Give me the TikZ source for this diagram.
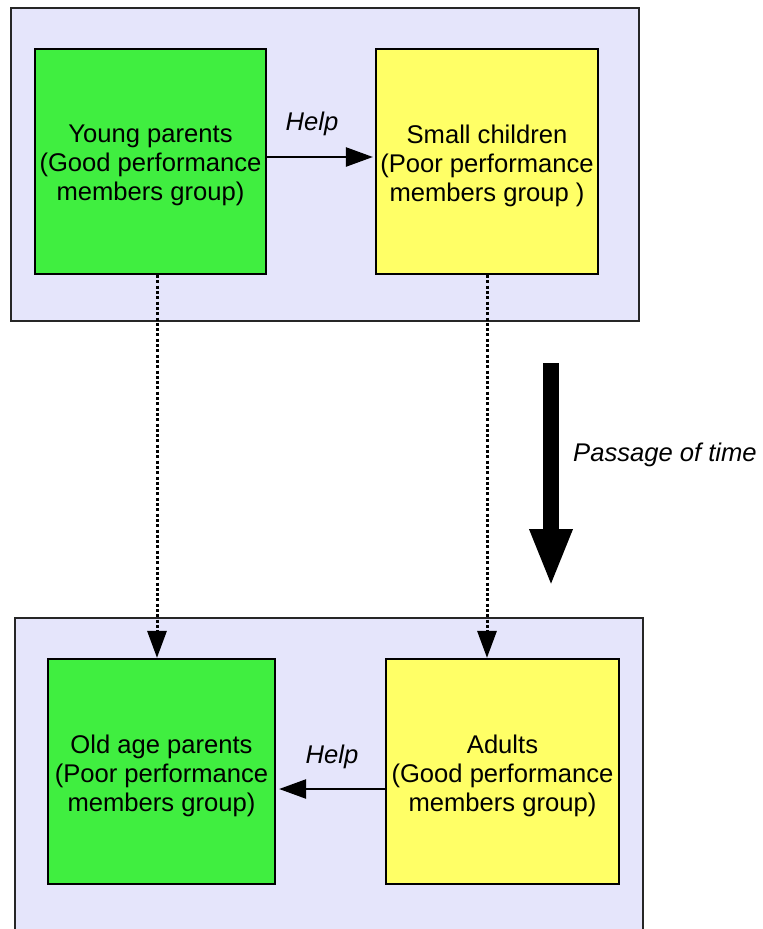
\documentclass[tikz,border=0pt]{standalone}
\usepackage{fontspec}
\setmainfont{Liberation Sans}
\usetikzlibrary{arrows.meta}
\definecolor{panelfill}{HTML}{E5E5FB}
\definecolor{goodgreen}{HTML}{40EE40}
\definecolor{lightyellow}{HTML}{FFFF66}
\tikzset{
  panel/.style={draw=black!85, line width=2.4pt, fill=panelfill, rectangle, inner sep=0pt},
  groupbox/.style={draw=black, line width=2.2pt, rectangle, inner sep=0pt},
  greenbox/.style={groupbox, fill=goodgreen},
  yellowbox/.style={groupbox, fill=lightyellow},
  boxtext/.style={inner sep=0pt, align=center, font=\fontsize{25.6}{29}\selectfont},
  helparrow/.style={line width=2.4pt, -{Triangle[length=27pt,width=19pt]}, shorten >=2pt},
  timearrow/.style={line width=3pt, dash pattern=on 3pt off 2.3pt,
    -{Triangle[length=27pt,width=19pt]}},
  tag/.style={font=\fontsize{25.6}{29}\selectfont\itshape, inner sep=0pt}
}
\begin{document}
\begin{tikzpicture}[x=1pt,y=-1pt]
  \useasboundingbox (0,0) rectangle (763,929);
  \clip (0,0) rectangle (763,929);

  % generation panels
  \node[panel, minimum width=628pt, minimum height=313pt] (toppanel) at (325,164.5) {};
  \node[panel, minimum width=628pt, minimum height=360pt] (botpanel) at (329,798) {};

  % family groups
  \node[greenbox, minimum width=231pt, minimum height=225pt] (young) at (150.5,161.5) {};
  \node[yellowbox, minimum width=222pt, minimum height=225pt] (small) at (487,161.5) {};
  \node[greenbox, minimum width=227pt, minimum height=225pt] (old) at (161.5,771.5) {};
  \node[yellowbox, minimum width=233pt, minimum height=225pt] (adults) at (502.5,771.5) {};

  \node[boxtext] (youngtxt) at ([yshift=-4pt]young.center)
    {Young parents\\(Good performance\\members group)};
  \node[boxtext] (smalltxt) at ([yshift=-4pt]small.center)
    {Small children\\(Poor performance\\members group )};
  \node[boxtext] (oldtxt) at ([yshift=-4pt]old.center)
    {Old age parents\\(Poor performance\\members group)};
  \node[boxtext] (adultstxt) at ([yshift=-4pt]adults.center)
    {Adults\\(Good performance\\members group)};

  % help relations
  \draw[helparrow] (young.east |- 0,157) -- (small.west |- 0,157);
  \node[tag] (helptop) at (312,124) {Help};
  \draw[helparrow, shorten >=3pt] (adults.west |- 0,789) -- (old.east |- 0,789);
  \node[tag] (helpbot) at (332,757) {Help};

  % ageing of each group
  \coordinate (leftlane) at (157,0);
  \coordinate (rightlane) at (487,0);
  \draw[timearrow] (young.south -| leftlane) -- (old.north -| leftlane);
  \draw[timearrow] (small.south -| rightlane) -- (adults.north -| rightlane);

  % passage of time
  \coordinate (ttop) at (551,363);
  \coordinate (tbot) at (551,587);
  \draw[line width=16pt, -{Triangle[length=58pt,width=39pt]}] (ttop) -- (tbot);
  \node[tag, anchor=west] (timelabel) at (573,455) {Passage of time};
\end{tikzpicture}
\end{document}
